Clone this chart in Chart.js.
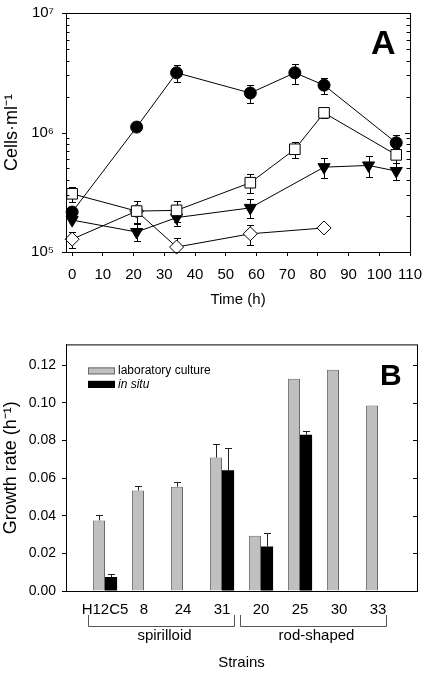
<!DOCTYPE html>
<html>
<head>
<meta charset="utf-8">
<script src="https://cdn.jsdelivr.net/npm/chart.js@4.4.0/dist/chart.umd.min.js"></script>
<style>
  body { margin: 0; background: #fff; }
  #wrap { position: relative; width: 432px; height: 673px; }
  canvas { position: absolute; left: 0; }
</style>
</head>
<body>
<div id="wrap">
  <canvas id="chartA" width="432" height="320" style="top:0px"></canvas>
  <canvas id="chartB" width="432" height="343" style="top:330px"></canvas>
</div>
<script>
const FONT = "'Liberation Sans', Arial, Helvetica, sans-serif";
Chart.defaults.font.family = FONT;
Chart.defaults.color = '#000';

// ---- panel A : cells per ml over time ----
const circleTime = [0, 21, 34, 58, 72.5, 82, 105.5];
const circleCells = [2.16e5, 1.11e6, 3.16e6, 2.14e6, 3.16e6, 2.49e6, 8.2e5];
const circleErr = [0, 0, 5.3e5, 3.8e5, 6.0e5, 3.8e5, 1.4e5];

const squareTime = [0, 21, 34, 58, 72.5, 82, 105.5];
const squareCells = [3.07e5, 2.2e5, 2.23e5, 3.8e5, 7.24e5, 1.46e6, 6.5e5];
const squareErr = [0.43e5, 0.45e5, 0.45e5, 0.7e5, 1.1e5, 1.5e5, 0.9e5];

const triangleTime = [0, 21, 34, 58, 82, 96.5, 105.5];
const triangleCells = [1.85e5, 1.47e5, 1.94e5, 2.34e5, 5.13e5, 5.3e5, 4.76e5];
const triangleErr = [0, 0.23e5, 0.3e5, 0.43e5, 1.0e5, 1.05e5, 0.75e5];

const diamondTime = [0, 21, 34, 58, 82];
const diamondCells = [1.28e5, 2.2e5, 1.1e5, 1.42e5, 1.59e5];
const diamondErr = [0.19e5, 0, 0.22e5, 0.27e5, 0];

const supDigits = { 5: '\u2075', 6: '\u2076', 7: '\u2077' };

// ---- panel B : growth rates ----
const strains = ['H12C5', '8', '24', '31', '20', '25', '30', '33'];
const labRate = [0.0375, 0.0534, 0.0554, 0.0709, 0.0294, 0.1127, 0.1175, 0.0985];
const labErr = [0.003, 0.0025, 0.0026, 0.007, 0, 0, 0, 0];
const situRate = [0.0074, null, null, 0.0642, 0.0237, 0.083, null, null];
const situErr = [0.0016, null, null, 0.012, 0.007, 0.0018, null, null];
const groupNames = ['spirilloid', 'rod-shaped'];
const groupFirst = ['H12C5', '20'];
const groupLast = ['31', '33'];

function pts(t, v) {
  return t.map((x, i) => ({ x: x, y: v[i] }));
}

function serie(t, v, err, style, radius, fill, rot) {
  return {
    data: pts(t, v),
    err: err,
    borderColor: '#000',
    borderWidth: 1,
    pointStyle: style,
    pointRadius: radius,
    pointRotation: rot || 0,
    pointBackgroundColor: fill,
    pointBorderColor: '#000',
    pointBorderWidth: 1,
    tension: 0,
    fill: false,
    clip: false
  };
}

const errBarsA = {
  id: 'errBarsA',
  beforeDatasetsDraw(chart) {
    const ctx = chart.ctx, a = chart.chartArea, x = chart.scales.x, y = chart.scales.y;
    ctx.save();
    ctx.strokeStyle = '#000';
    ctx.lineWidth = 1;
    chart.data.datasets.forEach(ds => {
      ds.data.forEach((p, i) => {
        const e = ds.err[i];
        if (!e) return;
        const px = Math.round(x.getPixelForValue(p.x)) + 0.5;
        const top = Math.round(y.getPixelForValue(p.y + e)) + 0.5;
        let bot = Math.round(y.getPixelForValue(p.y - e)) + 0.5;
        const hideLow = bot > a.bottom;
        if (hideLow) bot = a.bottom;
        ctx.beginPath();
        ctx.moveTo(px, top); ctx.lineTo(px, bot);
        ctx.moveTo(px - 3.5, top); ctx.lineTo(px + 3.5, top);
        if (!hideLow) { ctx.moveTo(px - 3.5, bot); ctx.lineTo(px + 3.5, bot); }
        ctx.stroke();
      });
    });
    ctx.restore();
  }
};

const frameA = {
  id: 'frameA',
  afterDraw(chart) {
    const ctx = chart.ctx, a = chart.chartArea, y = chart.scales.y;
    ctx.save();
    ctx.strokeStyle = '#000';
    ctx.lineWidth = 1;
    ctx.strokeRect(a.left + 0.5, a.top + 0.5, a.right - a.left, a.bottom - a.top);
    ctx.beginPath();
    for (let n = 5; n <= 7; n++) {
      for (let k = 1; k <= 9; k++) {
        const v = k * Math.pow(10, n);
        if (v > 1e7) break;
        const py = Math.round(y.getPixelForValue(v)) + 0.5;
        if (k === 1) {
          ctx.moveTo(a.left - 4, py); ctx.lineTo(a.left, py);
          ctx.moveTo(a.right, py); ctx.lineTo(a.right - 5, py);
        } else {
          ctx.moveTo(a.left, py); ctx.lineTo(a.left + 3.5, py);
          ctx.moveTo(a.right, py); ctx.lineTo(a.right - 3.5, py);
        }
      }
    }
    ctx.stroke();
    ctx.fillStyle = '#000';
    ctx.font = 'bold 34px ' + FONT;
    ctx.textAlign = 'left';
    ctx.textBaseline = 'alphabetic';
    ctx.fillText('A', a.right - 39, a.top + 41);
    ctx.restore();
  }
};

new Chart(document.getElementById('chartA'), {
  type: 'line',
  data: {
    datasets: [
      serie(circleTime, circleCells, circleErr, 'circle', 6, '#000'),
      serie(squareTime, squareCells, squareErr, 'rect', 7.5, '#fff'),
      serie(triangleTime, triangleCells, triangleErr, 'triangle', 7, '#000', 180),
      serie(diamondTime, diamondCells, diamondErr, 'rectRot', 7, '#fff')
    ]
  },
  options: {
    responsive: false,
    animation: false,
    layout: { padding: { top: 7, right: 15, left: 0, bottom: 0 } },
    plugins: { legend: { display: false }, tooltip: { enabled: false } },
    scales: {
      x: {
        type: 'linear', min: -2, max: 110,
        afterFit: s => { s.height = 68; },
        ticks: { stepSize: 10, includeBounds: false, maxRotation: 0, font: { size: 15 }, padding: 10 },
        grid: { drawOnChartArea: false, tickLength: 4, color: '#000' },
        border: { color: '#000' },
        title: { display: true, text: 'Time (h)', font: { size: 15 }, padding: { top: 0, bottom: 11 } }
      },
      y: {
        type: 'logarithmic', min: 1e5, max: 1e7,
        afterFit: s => { s.width = 66; },
        ticks: {
          autoSkip: false, font: { size: 15 }, padding: 4,
          callback: v => {
            const e = Math.log10(v);
            return Math.abs(e - Math.round(e)) < 1e-9 ? '10' + supDigits[Math.round(e)] : '';
          }
        },
        grid: { display: false },
        border: { color: '#000' },
        title: { display: true, text: 'Cells\u00b7ml\u207b\u00b9', font: { size: 18 }, padding: { top: 1, bottom: 0 } }
      }
    }
  },
  plugins: [errBarsA, frameA]
});

// ---- panel B ----
const errBarsB = {
  id: 'errBarsB',
  afterDatasetsDraw(chart) {
    const ctx = chart.ctx, y = chart.scales.y;
    ctx.save();
    ctx.strokeStyle = '#222';
    ctx.lineWidth = 1;
    chart.data.datasets.forEach((ds, di) => {
      const meta = chart.getDatasetMeta(di);
      ds.data.forEach((v, i) => {
        const e = ds.err[i];
        if (v == null || !e) return;
        const bar = meta.data[i];
        const px = Math.round(bar.x) + 0.5;
        const top = Math.round(y.getPixelForValue(v + e)) + 0.5;
        ctx.beginPath();
        ctx.moveTo(px, bar.y); ctx.lineTo(px, top);
        ctx.moveTo(px - 3.5, top); ctx.lineTo(px + 3.5, top);
        ctx.stroke();
      });
    });
    ctx.restore();
  }
};

const frameB = {
  id: 'frameB',
  afterDraw(chart) {
    const ctx = chart.ctx, a = chart.chartArea, x = chart.scales.x, y = chart.scales.y;
    ctx.save();
    ctx.strokeStyle = '#000';
    ctx.lineWidth = 1;
    ctx.strokeRect(a.left + 0.5, a.top + 0.5, a.right - a.left, a.bottom - a.top);
    ctx.beginPath();
    for (let v = 0.02; v < 0.13; v += 0.02) {
      const py = Math.round(y.getPixelForValue(v)) + 0.5;
      ctx.moveTo(a.right, py); ctx.lineTo(a.right - 4, py);
    }
    ctx.stroke();

    // legend
    const ds = chart.data.datasets;
    const bx = a.left + 22;
    [0, 1].forEach(i => {
      const by = a.top + 23 + i * 13.5;
      ctx.fillStyle = ds[i].backgroundColor;
      ctx.fillRect(bx, by, 27, 7);
      ctx.strokeStyle = ds[i].borderColor;
      ctx.strokeRect(bx + 0.5, by + 0.5, 26, 6);
      ctx.fillStyle = '#000';
      ctx.font = (i === 1 ? 'italic ' : '') + '12px ' + FONT;
      ctx.textAlign = 'left';
      ctx.textBaseline = 'middle';
      ctx.fillText(ds[i].label, bx + 30, by + 3.5);
    });

    ctx.font = 'bold 30px ' + FONT;
    ctx.textBaseline = 'alphabetic';
    ctx.fillText('B', a.right - 37, a.top + 41);

    // strain groups
    const step = x.getPixelForValue(2) - x.getPixelForValue(1);
    const padL = [0.43, 0.54], padR = [0.3, 0.2];
    ctx.strokeStyle = '#555';
    ctx.font = '15px ' + FONT;
    ctx.textAlign = 'center';
    ctx.textBaseline = 'middle';
    groupNames.forEach((g, i) => {
      const x0 = Math.round(x.getPixelForValue(strains.indexOf(groupFirst[i]) + 1) - padL[i] * step) + 0.5;
      const x1 = Math.round(x.getPixelForValue(strains.indexOf(groupLast[i]) + 1) + padR[i] * step) + 0.5;
      const yt = a.bottom + 24, yb = a.bottom + 35.5;
      ctx.beginPath();
      ctx.moveTo(x0, yt); ctx.lineTo(x0, yb); ctx.lineTo(x1, yb); ctx.lineTo(x1, yt);
      ctx.stroke();
      ctx.fillStyle = '#000';
      ctx.fillText(g, (x0 + x1) / 2 + 3, a.bottom + 45);
    });
    ctx.restore();
  }
};

const padEnds = arr => [null].concat(arr, [null]);

new Chart(document.getElementById('chartB'), {
  type: 'bar',
  data: {
    labels: [''].concat(strains, ['']),
    datasets: [
      { label: 'laboratory culture', data: padEnds(labRate), err: padEnds(labErr),
        backgroundColor: '#c0c0c0', borderColor: '#6a6a6a', borderWidth: 1,
        categoryPercentage: 0.62, barPercentage: 1 },
      { label: 'in situ', data: padEnds(situRate), err: padEnds(situErr),
        backgroundColor: '#000', borderColor: '#000', borderWidth: 0,
        categoryPercentage: 0.62, barPercentage: 1 }
    ]
  },
  options: {
    responsive: false,
    animation: false,
    layout: { padding: { top: 14, right: 15, left: 0, bottom: 0 } },
    plugins: { legend: { display: false }, tooltip: { enabled: false } },
    scales: {
      x: {
        offset: false,
        afterFit: s => { s.height = 82; },
        grid: { display: false },
        border: { color: '#000' },
        ticks: { autoSkip: false, maxRotation: 0, font: { size: 15 }, padding: 2 },
        title: { display: true, text: 'Strains', font: { size: 15 }, padding: { top: 0, bottom: 1 } }
      },
      y: {
        min: 0, max: 0.131,
        afterFit: s => { s.width = 66; },
        ticks: { stepSize: 0.02, includeBounds: false, font: { size: 14 }, padding: 6, callback: v => v.toFixed(2) },
        grid: { drawOnChartArea: false, tickLength: 4, color: '#000' },
        border: { color: '#000' },
        title: { display: true, text: 'Growth rate (h\u207b\u00b9)', font: { size: 18 }, padding: { top: 0, bottom: 0 } }
      }
    }
  },
  plugins: [errBarsB, frameB]
});
</script>
</body>
</html>
